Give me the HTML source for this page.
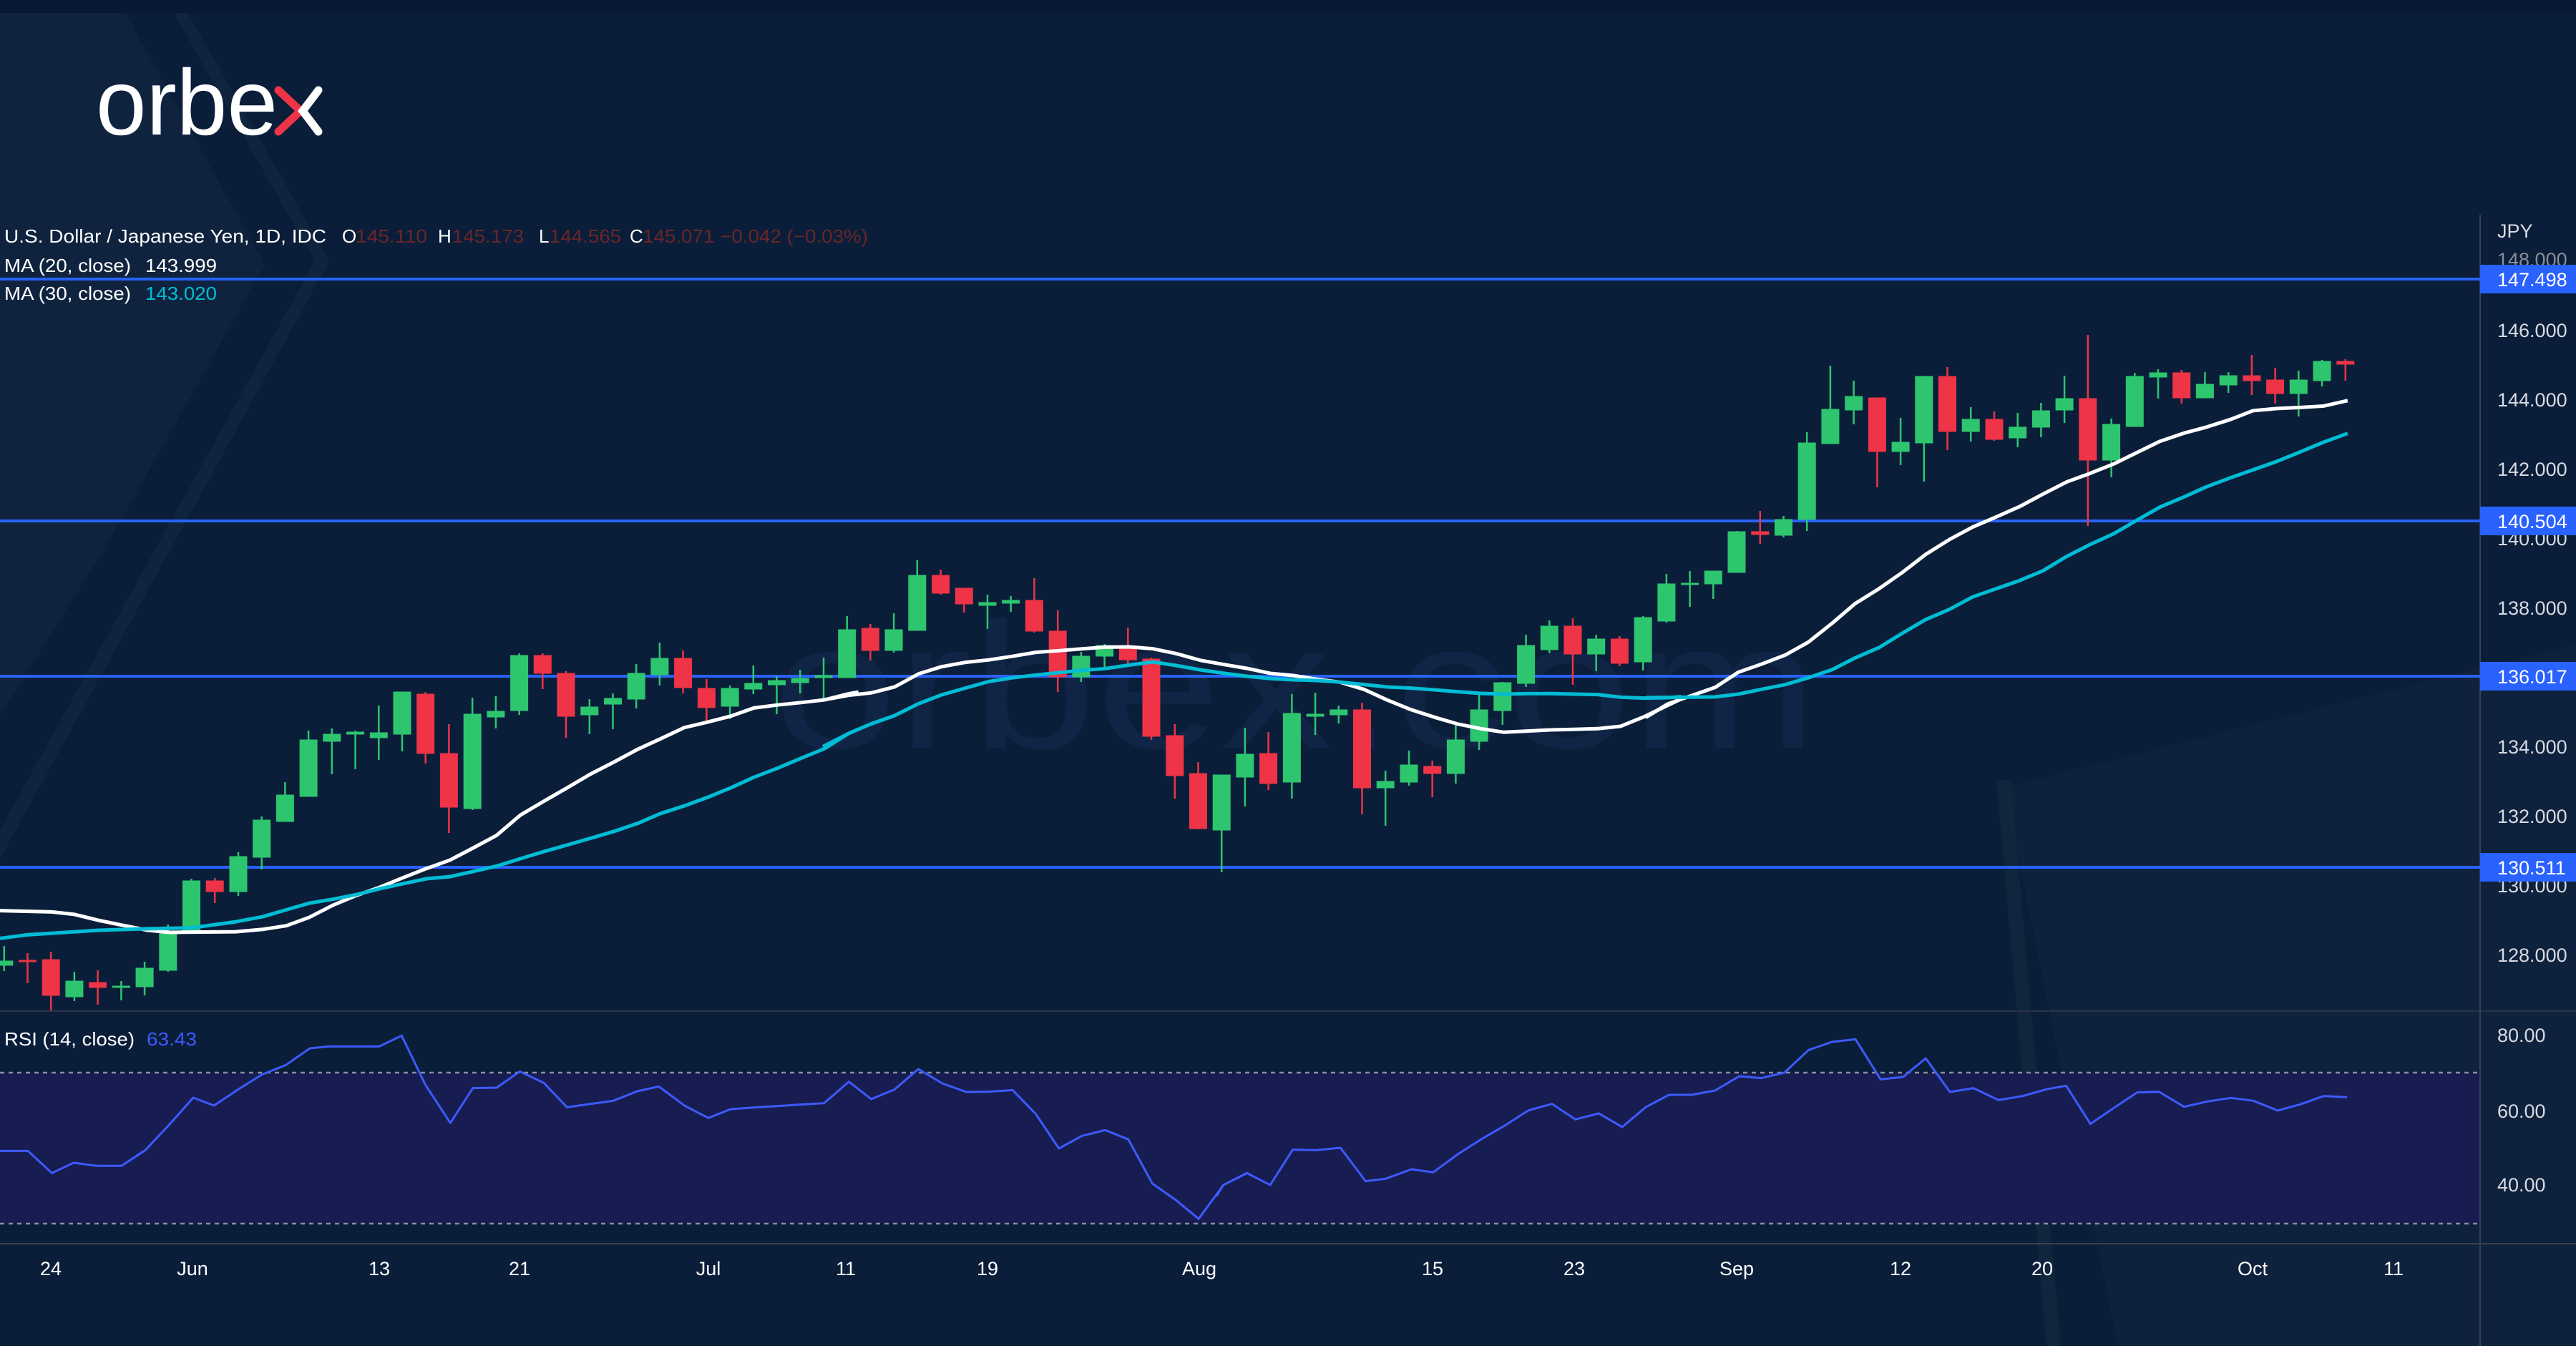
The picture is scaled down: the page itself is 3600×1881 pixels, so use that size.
<!DOCTYPE html>
<html><head><meta charset="utf-8"><style>
html,body{margin:0;padding:0;background:#0a1e3a;}
svg{display:block}
text{font-family:"Liberation Sans",sans-serif;}
.g{fill:#2dc66f;stroke:#2dc66f}
.r{fill:#ee3446;stroke:#ee3446}
.w{stroke-width:2.5}
</style></head><body>
<svg width="3600" height="1881" viewBox="0 0 3600 1881" xmlns="http://www.w3.org/2000/svg">
<rect width="3600" height="1881" fill="#0a1e3a"/>
<rect width="3600" height="18" fill="#081a33"/>
<!-- background decor -->
<polygon points="0,18 175,18 370,370 150,760 0,1000" fill="#10243f" opacity="0.9"/>
<polygon points="243,18 262,18 460,365 0,1200 0,1160 440,365" fill="#12273f" opacity="0.8"/>
<polygon points="2800,1100 3600,900 3600,1881 2960,1881" fill="#0f2440" opacity="0.7"/>
<polygon points="2790,1090 2810,1090 2880,1881 2860,1881" fill="#13293f" opacity="0.7"/>
<text x="1080" y="1045" font-size="250" fill="#13284a" opacity="0.7" textLength="1460" lengthAdjust="spacingAndGlyphs">orbex.com</text>
<!-- logo -->
<text x="134" y="188" font-size="130" fill="#ffffff" textLength="254" lengthAdjust="spacingAndGlyphs">orbe</text>
<polyline points="389,126 420,155 389,184" fill="none" stroke="#ee3446" stroke-width="11" stroke-linecap="round"/>
<polyline points="445,126 423,155 445,184" fill="none" stroke="#ffffff" stroke-width="11" stroke-linecap="round"/>
<!-- RSI band -->
<rect x="0" y="1499" width="3466" height="211" fill="#171d50"/>
<line x1="0" y1="1499" x2="3466" y2="1499" stroke="#8a8ea0" stroke-width="2.5" stroke-dasharray="6,6"/>
<line x1="0" y1="1710" x2="3466" y2="1710" stroke="#8a8ea0" stroke-width="2.5" stroke-dasharray="6,6"/>
<!-- separators -->
<line x1="0" y1="1413" x2="3600" y2="1413" stroke="#2c3445" stroke-width="2"/>
<line x1="0" y1="1738" x2="3600" y2="1738" stroke="#3a4150" stroke-width="2"/>
<line x1="3466" y1="300" x2="3466" y2="1881" stroke="#3a4150" stroke-width="2"/>
<!-- horizontal levels -->
<g stroke="#2962ff" stroke-width="4">
<line x1="0" y1="390" x2="3466" y2="390"/>
<line x1="0" y1="728" x2="3466" y2="728"/>
<line x1="0" y1="945" x2="3466" y2="945"/>
<line x1="0" y1="1212" x2="3466" y2="1212"/>
</g>
<!-- candles -->
<g>
<g class="g"><line class="w" x1="5.8" y1="1322" x2="5.8" y2="1357"/><rect x="-6.2" y="1343" width="24" height="6"/></g>
<g class="r"><line class="w" x1="38.5" y1="1332" x2="38.5" y2="1374"/><rect x="26.5" y="1342" width="24" height="2"/></g>
<g class="r"><line class="w" x1="71.2" y1="1330" x2="71.2" y2="1412"/><rect x="59.2" y="1341" width="24" height="50"/></g>
<g class="g"><line class="w" x1="103.9" y1="1358" x2="103.9" y2="1399"/><rect x="91.9" y="1371" width="24" height="22"/></g>
<g class="r"><line class="w" x1="136.6" y1="1356" x2="136.6" y2="1404"/><rect x="124.6" y="1373" width="24" height="7"/></g>
<g class="g"><line class="w" x1="169.4" y1="1371" x2="169.4" y2="1398"/><rect x="157.4" y="1378" width="24" height="2"/></g>
<g class="g"><line class="w" x1="202.1" y1="1344" x2="202.1" y2="1391"/><rect x="190.1" y="1353" width="24" height="26"/></g>
<g class="g"><line class="w" x1="234.8" y1="1292" x2="234.8" y2="1358"/><rect x="222.8" y="1301" width="24" height="55"/></g>
<g class="g"><line class="w" x1="267.5" y1="1228" x2="267.5" y2="1303"/><rect x="255.5" y="1231" width="24" height="72"/></g>
<g class="r"><line class="w" x1="300.2" y1="1227" x2="300.2" y2="1262"/><rect x="288.2" y="1231" width="24" height="15"/></g>
<g class="g"><line class="w" x1="333.0" y1="1191" x2="333.0" y2="1252"/><rect x="321.0" y="1197" width="24" height="49"/></g>
<g class="g"><line class="w" x1="365.7" y1="1141" x2="365.7" y2="1215"/><rect x="353.7" y="1146" width="24" height="52"/></g>
<g class="g"><line class="w" x1="398.4" y1="1093" x2="398.4" y2="1148"/><rect x="386.4" y="1111" width="24" height="37"/></g>
<g class="g"><line class="w" x1="431.1" y1="1021" x2="431.1" y2="1113"/><rect x="419.1" y="1034" width="24" height="79"/></g>
<g class="g"><line class="w" x1="463.8" y1="1018" x2="463.8" y2="1082"/><rect x="451.8" y="1026" width="24" height="10"/></g>
<g class="g"><line class="w" x1="496.6" y1="1021" x2="496.6" y2="1075"/><rect x="484.6" y="1023" width="24" height="3"/></g>
<g class="g"><line class="w" x1="529.3" y1="986" x2="529.3" y2="1062"/><rect x="517.3" y="1024" width="24" height="7"/></g>
<g class="g"><line class="w" x1="562.0" y1="967" x2="562.0" y2="1050"/><rect x="550.0" y="967" width="24" height="59"/></g>
<g class="r"><line class="w" x1="594.7" y1="967" x2="594.7" y2="1067"/><rect x="582.7" y="970" width="24" height="83"/></g>
<g class="r"><line class="w" x1="627.4" y1="1012" x2="627.4" y2="1164"/><rect x="615.4" y="1053" width="24" height="75"/></g>
<g class="g"><line class="w" x1="660.2" y1="975" x2="660.2" y2="1132"/><rect x="648.2" y="998" width="24" height="132"/></g>
<g class="g"><line class="w" x1="692.9" y1="973" x2="692.9" y2="1018"/><rect x="680.9" y="994" width="24" height="8"/></g>
<g class="g"><line class="w" x1="725.6" y1="913" x2="725.6" y2="999"/><rect x="713.6" y="916" width="24" height="77"/></g>
<g class="r"><line class="w" x1="758.3" y1="913" x2="758.3" y2="963"/><rect x="746.3" y="916" width="24" height="25"/></g>
<g class="r"><line class="w" x1="791.0" y1="938" x2="791.0" y2="1031"/><rect x="779.0" y="941" width="24" height="60"/></g>
<g class="g"><line class="w" x1="823.8" y1="977" x2="823.8" y2="1026"/><rect x="811.8" y="988" width="24" height="11"/></g>
<g class="g"><line class="w" x1="856.5" y1="969" x2="856.5" y2="1019"/><rect x="844.5" y="976" width="24" height="8"/></g>
<g class="g"><line class="w" x1="889.2" y1="928" x2="889.2" y2="990"/><rect x="877.2" y="941" width="24" height="36"/></g>
<g class="g"><line class="w" x1="921.9" y1="898" x2="921.9" y2="958"/><rect x="909.9" y="920" width="24" height="23"/></g>
<g class="r"><line class="w" x1="954.6" y1="909" x2="954.6" y2="969"/><rect x="942.6" y="920" width="24" height="41"/></g>
<g class="r"><line class="w" x1="987.4" y1="949" x2="987.4" y2="1008"/><rect x="975.4" y="962" width="24" height="27"/></g>
<g class="g"><line class="w" x1="1020.1" y1="958" x2="1020.1" y2="1005"/><rect x="1008.1" y="962" width="24" height="25"/></g>
<g class="g"><line class="w" x1="1052.8" y1="930" x2="1052.8" y2="970"/><rect x="1040.8" y="955" width="24" height="8"/></g>
<g class="g"><line class="w" x1="1085.5" y1="945" x2="1085.5" y2="998"/><rect x="1073.5" y="951" width="24" height="6"/></g>
<g class="g"><line class="w" x1="1118.2" y1="936" x2="1118.2" y2="969"/><rect x="1106.2" y="948" width="24" height="6"/></g>
<g class="g"><line class="w" x1="1151.0" y1="919" x2="1151.0" y2="979"/><rect x="1139.0" y="944" width="24" height="3"/></g>
<g class="g"><line class="w" x1="1183.7" y1="861" x2="1183.7" y2="947"/><rect x="1171.7" y="880" width="24" height="67"/></g>
<g class="r"><line class="w" x1="1216.4" y1="872" x2="1216.4" y2="923"/><rect x="1204.4" y="878" width="24" height="31"/></g>
<g class="g"><line class="w" x1="1249.1" y1="857" x2="1249.1" y2="912"/><rect x="1237.1" y="880" width="24" height="29"/></g>
<g class="g"><line class="w" x1="1281.8" y1="783" x2="1281.8" y2="881"/><rect x="1269.8" y="804" width="24" height="77"/></g>
<g class="r"><line class="w" x1="1314.6" y1="796" x2="1314.6" y2="831"/><rect x="1302.6" y="804" width="24" height="25"/></g>
<g class="r"><line class="w" x1="1347.3" y1="822" x2="1347.3" y2="856"/><rect x="1335.3" y="822" width="24" height="22"/></g>
<g class="g"><line class="w" x1="1380.0" y1="831" x2="1380.0" y2="879"/><rect x="1368.0" y="842" width="24" height="4"/></g>
<g class="g"><line class="w" x1="1412.7" y1="833" x2="1412.7" y2="855"/><rect x="1400.7" y="839" width="24" height="4"/></g>
<g class="r"><line class="w" x1="1445.4" y1="808" x2="1445.4" y2="884"/><rect x="1433.4" y="839" width="24" height="43"/></g>
<g class="r"><line class="w" x1="1478.2" y1="853" x2="1478.2" y2="967"/><rect x="1466.2" y="882" width="24" height="64"/></g>
<g class="g"><line class="w" x1="1510.9" y1="911" x2="1510.9" y2="953"/><rect x="1498.9" y="917" width="24" height="29"/></g>
<g class="g"><line class="w" x1="1543.6" y1="900" x2="1543.6" y2="933"/><rect x="1531.6" y="902" width="24" height="15"/></g>
<g class="r"><line class="w" x1="1576.3" y1="877" x2="1576.3" y2="931"/><rect x="1564.3" y="904" width="24" height="18"/></g>
<g class="r"><line class="w" x1="1609.0" y1="919" x2="1609.0" y2="1034"/><rect x="1597.0" y="921" width="24" height="108"/></g>
<g class="r"><line class="w" x1="1641.8" y1="1012" x2="1641.8" y2="1116"/><rect x="1629.8" y="1028" width="24" height="56"/></g>
<g class="r"><line class="w" x1="1674.5" y1="1065" x2="1674.5" y2="1159"/><rect x="1662.5" y="1081" width="24" height="77"/></g>
<g class="g"><line class="w" x1="1707.2" y1="1083" x2="1707.2" y2="1219"/><rect x="1695.2" y="1083" width="24" height="77"/></g>
<g class="g"><line class="w" x1="1739.9" y1="1017" x2="1739.9" y2="1127"/><rect x="1727.9" y="1054" width="24" height="32"/></g>
<g class="r"><line class="w" x1="1772.6" y1="1023" x2="1772.6" y2="1104"/><rect x="1760.6" y="1053" width="24" height="42"/></g>
<g class="g"><line class="w" x1="1805.4" y1="970" x2="1805.4" y2="1116"/><rect x="1793.4" y="997" width="24" height="96"/></g>
<g class="g"><line class="w" x1="1838.1" y1="968" x2="1838.1" y2="1027"/><rect x="1826.1" y="998" width="24" height="3"/></g>
<g class="g"><line class="w" x1="1870.8" y1="986" x2="1870.8" y2="1011"/><rect x="1858.8" y="992" width="24" height="7"/></g>
<g class="r"><line class="w" x1="1903.5" y1="982" x2="1903.5" y2="1138"/><rect x="1891.5" y="992" width="24" height="109"/></g>
<g class="g"><line class="w" x1="1936.2" y1="1077" x2="1936.2" y2="1154"/><rect x="1924.2" y="1092" width="24" height="9"/></g>
<g class="g"><line class="w" x1="1969.0" y1="1049" x2="1969.0" y2="1098"/><rect x="1957.0" y="1069" width="24" height="24"/></g>
<g class="r"><line class="w" x1="2001.7" y1="1063" x2="2001.7" y2="1114"/><rect x="1989.7" y="1071" width="24" height="10"/></g>
<g class="g"><line class="w" x1="2034.4" y1="1012" x2="2034.4" y2="1095"/><rect x="2022.4" y="1034" width="24" height="47"/></g>
<g class="g"><line class="w" x1="2067.1" y1="971" x2="2067.1" y2="1048"/><rect x="2055.1" y="992" width="24" height="44"/></g>
<g class="g"><line class="w" x1="2099.8" y1="953" x2="2099.8" y2="1013"/><rect x="2087.8" y="954" width="24" height="39"/></g>
<g class="g"><line class="w" x1="2132.6" y1="887" x2="2132.6" y2="960"/><rect x="2120.6" y="902" width="24" height="53"/></g>
<g class="g"><line class="w" x1="2165.3" y1="867" x2="2165.3" y2="913"/><rect x="2153.3" y="875" width="24" height="33"/></g>
<g class="r"><line class="w" x1="2198.0" y1="864" x2="2198.0" y2="957"/><rect x="2186.0" y="875" width="24" height="39"/></g>
<g class="g"><line class="w" x1="2230.7" y1="887" x2="2230.7" y2="938"/><rect x="2218.7" y="893" width="24" height="21"/></g>
<g class="r"><line class="w" x1="2263.4" y1="889" x2="2263.4" y2="931"/><rect x="2251.4" y="893" width="24" height="34"/></g>
<g class="g"><line class="w" x1="2296.2" y1="861" x2="2296.2" y2="937"/><rect x="2284.2" y="863" width="24" height="62"/></g>
<g class="g"><line class="w" x1="2328.9" y1="802" x2="2328.9" y2="870"/><rect x="2316.9" y="816" width="24" height="52"/></g>
<g class="g"><line class="w" x1="2361.6" y1="798" x2="2361.6" y2="848"/><rect x="2349.6" y="815" width="24" height="2"/></g>
<g class="g"><line class="w" x1="2394.3" y1="798" x2="2394.3" y2="837"/><rect x="2382.3" y="798" width="24" height="18"/></g>
<g class="g"><line class="w" x1="2427.0" y1="742" x2="2427.0" y2="800"/><rect x="2415.0" y="743" width="24" height="57"/></g>
<g class="r"><line class="w" x1="2459.8" y1="714" x2="2459.8" y2="760"/><rect x="2447.8" y="743" width="24" height="4"/></g>
<g class="g"><line class="w" x1="2492.5" y1="721" x2="2492.5" y2="751"/><rect x="2480.5" y="726" width="24" height="22"/></g>
<g class="g"><line class="w" x1="2525.2" y1="604" x2="2525.2" y2="742"/><rect x="2513.2" y="619" width="24" height="107"/></g>
<g class="g"><line class="w" x1="2557.9" y1="511" x2="2557.9" y2="620"/><rect x="2545.9" y="572" width="24" height="48"/></g>
<g class="g"><line class="w" x1="2590.6" y1="532" x2="2590.6" y2="593"/><rect x="2578.6" y="554" width="24" height="19"/></g>
<g class="r"><line class="w" x1="2623.4" y1="556" x2="2623.4" y2="681"/><rect x="2611.4" y="556" width="24" height="75"/></g>
<g class="g"><line class="w" x1="2656.1" y1="584" x2="2656.1" y2="650"/><rect x="2644.1" y="618" width="24" height="13"/></g>
<g class="g"><line class="w" x1="2688.8" y1="526" x2="2688.8" y2="673"/><rect x="2676.8" y="526" width="24" height="93"/></g>
<g class="r"><line class="w" x1="2721.5" y1="513" x2="2721.5" y2="629"/><rect x="2709.5" y="526" width="24" height="77"/></g>
<g class="g"><line class="w" x1="2754.2" y1="569" x2="2754.2" y2="617"/><rect x="2742.2" y="586" width="24" height="17"/></g>
<g class="r"><line class="w" x1="2787.0" y1="575" x2="2787.0" y2="616"/><rect x="2775.0" y="586" width="24" height="28"/></g>
<g class="g"><line class="w" x1="2819.7" y1="577" x2="2819.7" y2="625"/><rect x="2807.7" y="597" width="24" height="15"/></g>
<g class="g"><line class="w" x1="2852.4" y1="563" x2="2852.4" y2="611"/><rect x="2840.4" y="574" width="24" height="23"/></g>
<g class="g"><line class="w" x1="2885.1" y1="525" x2="2885.1" y2="591"/><rect x="2873.1" y="557" width="24" height="16"/></g>
<g class="r"><line class="w" x1="2917.8" y1="468" x2="2917.8" y2="735"/><rect x="2905.8" y="557" width="24" height="86"/></g>
<g class="g"><line class="w" x1="2950.6" y1="585" x2="2950.6" y2="667"/><rect x="2938.6" y="593" width="24" height="50"/></g>
<g class="g"><line class="w" x1="2983.3" y1="521" x2="2983.3" y2="596"/><rect x="2971.3" y="526" width="24" height="70"/></g>
<g class="g"><line class="w" x1="3016.0" y1="516" x2="3016.0" y2="557"/><rect x="3004.0" y="521" width="24" height="6"/></g>
<g class="r"><line class="w" x1="3048.7" y1="517" x2="3048.7" y2="564"/><rect x="3036.7" y="521" width="24" height="35"/></g>
<g class="g"><line class="w" x1="3081.4" y1="520" x2="3081.4" y2="556"/><rect x="3069.4" y="537" width="24" height="19"/></g>
<g class="g"><line class="w" x1="3114.2" y1="520" x2="3114.2" y2="549"/><rect x="3102.2" y="525" width="24" height="13"/></g>
<g class="r"><line class="w" x1="3146.9" y1="496" x2="3146.9" y2="552"/><rect x="3134.9" y="525" width="24" height="7"/></g>
<g class="r"><line class="w" x1="3179.6" y1="514" x2="3179.6" y2="564"/><rect x="3167.6" y="531" width="24" height="19"/></g>
<g class="g"><line class="w" x1="3212.3" y1="518" x2="3212.3" y2="582"/><rect x="3200.3" y="531" width="24" height="19"/></g>
<g class="g"><line class="w" x1="3245.0" y1="503" x2="3245.0" y2="540"/><rect x="3233.0" y="505" width="24" height="27"/></g>
<g class="r"><line class="w" x1="3277.8" y1="502" x2="3277.8" y2="532"/><rect x="3265.8" y="505" width="24" height="4"/></g>
</g>
<!-- MA lines -->
<g fill="none" stroke-linejoin="round">
<polyline transform="matrix(0.7651 0 0 0.4209 0 760)" vector-effect="non-scaling-stroke" stroke="#ffffff" stroke-width="5" points="0,1218 95,1222 135,1230 180,1250 220,1265 270,1283 310,1290 430,1288 480,1280 523,1268 565,1240 608,1200 650,1168 694,1140 737,1108 779,1078 822,1050 864,1010 907,968 951,900 993,855 1036,810 1078,765 1121,725 1165,682 1207,647 1250,610 1292,592 1335,572 1377,545 1420,535 1463,527 1506,518 1550,498 1568,492"/>
<polyline transform="matrix(0.7651 0 0 0.4209 0 760)" vector-effect="non-scaling-stroke" stroke="#00bcd4" stroke-width="5" points="0,1310 50,1298 180,1283 270,1278 350,1275 430,1255 480,1238 523,1215 565,1193 608,1180 650,1165 694,1145 737,1128 779,1112 822,1105 864,1088 907,1070 951,1045 993,1022 1036,1000 1078,978 1121,955 1165,928 1207,895 1250,870 1292,842 1335,810 1377,775 1420,745 1463,712 1506,680 1550,630 1568,615"/>
<polyline transform="matrix(0.7651 0 0 0.3333 1150 760)" vector-effect="non-scaling-stroke" stroke="#ffffff" stroke-width="5" points="0,655 47,635 88,625 131,600 175,545 217,515 260,497 302,487 345,472 389,455 431,448 475,440 516,433 560,432 603,440 645,460 689,488 730,505 774,522 817,543 859,552 903,568 945,580 988,610 1031,655 1074,695 1117,727 1159,755 1202,775 1244,790 1287,785 1330,780 1372,778 1415,775 1457,765 1500,725 1545,675 1568,650"/>
<polyline transform="matrix(0.7651 0 0 0.3333 1150 760)" vector-effect="non-scaling-stroke" stroke="#00bcd4" stroke-width="5" points="0,850 47,795 88,755 131,720 175,670 217,633 260,605 302,578 345,562 389,550 431,540 475,530 516,523 560,508 603,495 645,510 689,528 730,542 774,555 817,565 859,570 903,573 945,580 988,590 1031,600 1074,605 1117,612 1159,620 1202,627 1244,630 1287,628 1330,628 1372,630 1415,632 1457,643 1500,647 1545,645 1568,640"/>
<polyline transform="matrix(0.7651 0 0 0.3827 2300 440)" vector-effect="non-scaling-stroke" stroke="#ffffff" stroke-width="5" points="0,1470 41,1420 84,1390 127,1360 169,1305 212,1275 255,1242 297,1195 341,1125 382,1055 426,1000 469,940 511,875 555,820 597,775 640,738 683,700 725,655 769,610 810,580 854,545 897,503 939,462 983,432 1024,410 1068,382 1109,350 1153,342 1196,338 1238,333 1282,313"/>
<polyline transform="matrix(0.7651 0 0 0.3827 2300 440)" vector-effect="non-scaling-stroke" stroke="#00bcd4" stroke-width="5" points="0,1398 41,1397 127,1395 169,1385 212,1367 255,1350 297,1325 341,1295 382,1253 426,1215 469,1162 511,1113 555,1075 597,1030 640,1000 683,970 725,935 769,882 810,840 854,800 897,750 939,702 983,665 1024,628 1068,595 1109,566 1153,535 1196,500 1238,465 1282,433"/>
<!-- RSI -->
<polyline transform="matrix(1.116 0 0 0.3333 0 1400)" vector-effect="non-scaling-stroke" stroke="#3d5afe" stroke-width="3" points="0,625 35,625 65,718 92,675 122,688 152,688 182,622 212,515 242,402 268,435 298,368 328,305 358,265 388,195 412,187 475,187 503,142 533,350 564,508 592,362 622,360 651,292 681,340 710,442 740,428 768,415 798,375 825,355 857,435 887,487 915,450 945,443 975,437 1005,430 1032,425 1063,335 1091,408 1120,368 1150,282 1180,342 1210,378 1238,377 1268,370 1297,470 1326,615 1355,562 1384,538 1413,577 1443,762 1472,830 1501,910 1532,768 1562,718 1568,730"/>
<polyline transform="matrix(1.2117 0 0 0.3333 1700 1400)" vector-effect="non-scaling-stroke" stroke="#3d5afe" stroke-width="3" points="0,815 8,768 35,718 62,768 88,620 115,622 143,612 172,752 195,742 225,702 250,715 278,640 306,575 333,518 360,455 387,428 414,493 441,468 468,525 495,442 522,390 548,390 575,372 603,312 628,320 655,297 683,202 710,168 737,157 766,325 792,315 818,237 846,378 873,362 902,412 930,395 957,367 980,352 1008,512 1035,445 1062,380 1087,377 1116,440 1143,418 1170,403 1196,415 1224,456 1250,430 1277,395 1304,400"/>
</g>
<!-- legend -->
<g font-size="26">
<text x="6" y="339" fill="#ffffff" textLength="450" lengthAdjust="spacingAndGlyphs">U.S. Dollar / Japanese Yen, 1D, IDC</text>
<text x="478" y="339" fill="#ffffff">O</text><text x="497" y="339" fill="#6a2528" textLength="100" lengthAdjust="spacingAndGlyphs">145.110</text>
<text x="612" y="339" fill="#ffffff">H</text><text x="632" y="339" fill="#6a2528" textLength="100" lengthAdjust="spacingAndGlyphs">145.173</text>
<text x="753" y="339" fill="#ffffff">L</text><text x="768" y="339" fill="#6a2528" textLength="100" lengthAdjust="spacingAndGlyphs">144.565</text>
<text x="880" y="339" fill="#ffffff">C</text><text x="898" y="339" fill="#6a2528" textLength="315" lengthAdjust="spacingAndGlyphs">145.071  −0.042 (−0.03%)</text>
<text x="6" y="380" fill="#ffffff" textLength="177" lengthAdjust="spacingAndGlyphs">MA (20, close)</text>
<text x="203" y="380" fill="#ffffff" textLength="100" lengthAdjust="spacingAndGlyphs">143.999</text>
<text x="6" y="419" fill="#ffffff" textLength="177" lengthAdjust="spacingAndGlyphs">MA (30, close)</text>
<text x="203" y="419" fill="#00bcd4" textLength="100" lengthAdjust="spacingAndGlyphs">143.020</text>
<text x="6" y="1461" fill="#ffffff" textLength="182" lengthAdjust="spacingAndGlyphs">RSI (14, close)</text>
<text x="205" y="1461" fill="#3d5afe" textLength="70" lengthAdjust="spacingAndGlyphs">63.43</text>
</g>
<!-- price axis -->
<g font-size="27" fill="#d8dae0">
<text x="3490" y="332">JPY</text>
<text x="3490" y="372" fill="#8a8e99">148.000</text>
<text x="3490" y="471">146.000</text>
<text x="3490" y="568">144.000</text>
<text x="3490" y="665">142.000</text>
<text x="3490" y="762">140.000</text>
<text x="3490" y="859">138.000</text>
<text x="3490" y="956">136.000</text>
<text x="3490" y="1053">134.000</text>
<text x="3490" y="1150">132.000</text>
<text x="3490" y="1247">130.000</text>
<text x="3490" y="1344">128.000</text>
<text x="3490" y="1456">80.00</text>
<text x="3490" y="1562">60.00</text>
<text x="3490" y="1665">40.00</text>
</g>
<g font-size="27" fill="#ffffff">
<rect x="3466" y="370" width="134" height="40" fill="#2962ff"/><text x="3490" y="400">147.498</text>
<rect x="3466" y="708" width="134" height="40" fill="#2962ff"/><text x="3490" y="738">140.504</text>
<rect x="3466" y="925" width="134" height="40" fill="#2962ff"/><text x="3490" y="955">136.017</text>
<rect x="3466" y="1192" width="134" height="40" fill="#2962ff"/><text x="3490" y="1222">130.511</text>
</g>
<!-- time axis -->
<g font-size="27" fill="#ffffff" text-anchor="middle">
<text x="71" y="1782">24</text>
<text x="269" y="1782">Jun</text>
<text x="530" y="1782">13</text>
<text x="726" y="1782">21</text>
<text x="990" y="1782">Jul</text>
<text x="1182" y="1782">11</text>
<text x="1380" y="1782">19</text>
<text x="1676" y="1782">Aug</text>
<text x="2002" y="1782">15</text>
<text x="2200" y="1782">23</text>
<text x="2427" y="1782">Sep</text>
<text x="2656" y="1782">12</text>
<text x="2854" y="1782">20</text>
<text x="3148" y="1782">Oct</text>
<text x="3345" y="1782">11</text>
</g>
</svg>
</body></html>
